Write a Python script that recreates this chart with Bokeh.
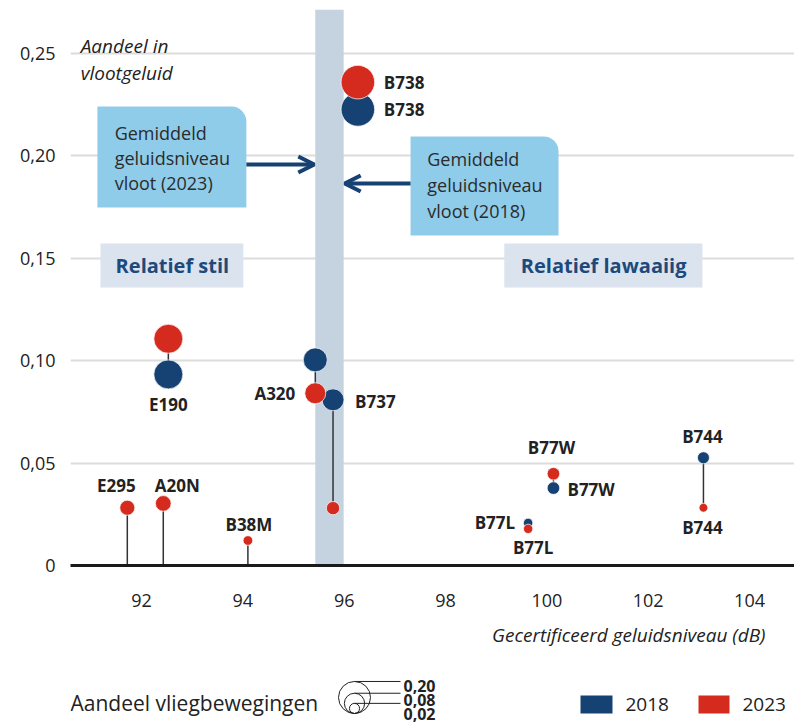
import math
from bokeh.plotting import figure
from bokeh.models import Range1d, FixedTicker, BoxAnnotation, Arrow, OpenHead
from bokeh.layouts import column
from bokeh.core.properties import value
from bokeh.embed import file_html
from bokeh.resources import INLINE

# ---------------- data ----------------
types = ["B738", "E190", "A320", "B737", "B77W", "B77L", "B744", "E295", "A20N", "B38M"]
level_db = [96.27, 92.53, 95.43, 95.78, 100.13, 99.63, 103.09, 91.72, 92.43, 94.10]
fleet_noise_2018 = [0.2227, 0.0933, 0.1004, 0.0809, 0.0378, 0.0208, 0.0526, None, None, None]
fleet_noise_2023 = [0.2360, 0.1107, 0.0841, 0.0280, 0.0448, 0.0179, 0.0282, 0.0282, 0.0303, 0.0122]
movements_2018 = [0.220, 0.164, 0.112, 0.094, 0.031, 0.017, 0.028, None, None, None]
movements_2023 = [0.220, 0.164, 0.086, 0.0345, 0.031, 0.017, 0.015, 0.044, 0.048, 0.018]
mean_level_2023 = 95.43
mean_level_2018 = 95.99
x_ticks = [92, 94, 96, 98, 100, 102, 104]
y_ticks = [0, 0.05, 0.10, 0.15, 0.20, 0.25]
y_tick_labels = ["0", "0,05", "0,10", "0,15", "0,20", "0,25"]
size_legend_values = [0.20, 0.08, 0.02]
size_legend_labels = ["0,20", "0,08", "0,02"]
years = ["2018", "2023"]

# ---------------- style ----------------
FONT = "Open Sans"
BLUE = "#154273"
RED = "#d52b1e"
TXT = "#222222"
BOXBLUE = "#8fcce9"
PALE = "#dbe3ee"
BAND = "#c5d2e0"
SIZE_K = 71.6


def diam(s):
    return SIZE_K * math.sqrt(s)


p = figure(width=794, height=620,
           x_range=Range1d(90.599, 104.887), y_range=Range1d(0, 0.27148),
           output_backend="svg", toolbar_location=None,
           min_border_left=70, min_border_right=0, min_border_top=9, min_border_bottom=55)
p.outline_line_color = None
p.background_fill_color = "white"
p.border_fill_color = "white"
p.xgrid.visible = False
p.ygrid.ticker = FixedTicker(ticks=y_ticks)
p.ygrid.grid_line_color = "#dcdcdc"
p.ygrid.grid_line_width = 2

p.xaxis.ticker = FixedTicker(ticks=x_ticks)
p.xaxis.axis_line_width = 3
p.xaxis.axis_line_color = "#1a1a1a"
p.xaxis.major_tick_line_color = None
p.xaxis.minor_tick_line_color = None
p.xaxis.major_label_standoff = 22
p.xaxis.major_label_text_font = FONT
p.xaxis.major_label_text_font_size = "18px"
p.xaxis.major_label_text_color = TXT

p.yaxis.ticker = FixedTicker(ticks=y_ticks)
p.yaxis.major_label_overrides = {t: l for t, l in zip(y_ticks, y_tick_labels)}
p.yaxis.axis_line_color = None
p.yaxis.major_tick_line_color = None
p.yaxis.minor_tick_line_color = None
p.yaxis.major_label_standoff = 9
p.yaxis.major_label_text_font = FONT
p.yaxis.major_label_text_font_size = "18px"
p.yaxis.major_label_text_color = TXT

# band between the two fleet means
p.add_layout(BoxAnnotation(left=mean_level_2023, right=mean_level_2018, fill_color=BAND,
                           fill_alpha=1, line_color=None, level="underlay"))

# annotation boxes
p.add_layout(BoxAnnotation(left=91.13, right=94.07, top=0.2241, bottom=0.1748, fill_color=BOXBLUE,
                           fill_alpha=1, line_color=None, level="underlay", border_radius=(0, 15, 0, 0)))
p.add_layout(BoxAnnotation(left=97.31, right=100.23, top=0.2095, bottom=0.1611, fill_color=BOXBLUE,
                           fill_alpha=1, line_color=None, level="underlay", border_radius=(0, 15, 0, 0)))
p.add_layout(BoxAnnotation(left=91.19, right=94.01, top=0.1572, bottom=0.1357, fill_color=PALE,
                           fill_alpha=1, line_color=None, level="underlay"))
p.add_layout(BoxAnnotation(left=99.16, right=103.07, top=0.1572, bottom=0.1357, fill_color=PALE,
                           fill_alpha=1, line_color=None, level="underlay"))

p.add_layout(Arrow(end=OpenHead(line_color=BLUE, line_width=4, size=16),
                   x_start=94.07, y_start=0.1958, x_end=mean_level_2023 - 0.02, y_end=0.1958,
                   line_color=BLUE, line_width=4))
p.add_layout(Arrow(end=OpenHead(line_color=BLUE, line_width=4, size=16),
                   x_start=97.31, y_start=0.1865, x_end=mean_level_2018 + 0.02, y_end=0.1865,
                   line_color=BLUE, line_width=4))

# box texts
p.text(x=[91.47] * 3, y=[0.2114, 0.1992, 0.1870],
       text=["Gemiddeld", "geluidsniveau", "vloot (2023)"],
       text_font=value(FONT), text_font_size="18px", text_color="#2b2b2b",
       text_align="left", text_baseline="middle")
p.text(x=[97.64] * 3, y=[0.1987, 0.1860, 0.1733],
       text=["Gemiddeld", "geluidsniveau", "vloot (2018)"],
       text_font=value(FONT), text_font_size="18px", text_color="#2b2b2b",
       text_align="left", text_baseline="middle")
p.text(x=[92.61, 101.12], y=[0.1465, 0.1465], text=["Relatief stil", "Relatief lawaaiig"],
       text_font=value(FONT), text_font_size="20px", text_font_style="bold", text_color="#1b4a7b",
       text_align="center", text_baseline="middle")

# y-axis title
p.text(x=[90.80, 90.80], y=[0.2539, 0.2407], text=["Aandeel in", "vlootgeluid"],
       text_font=value(FONT), text_font_size="19px", text_font_style="italic", text_color=TXT,
       text_align="left", text_baseline="alphabetic")

# stems / connectors
seg_x, seg_y0, seg_y1 = [], [], []
for i in range(len(types)):
    seg_x.append(level_db[i])
    seg_y0.append(fleet_noise_2018[i] if fleet_noise_2018[i] is not None else 0.0)
    seg_y1.append(fleet_noise_2023[i])
p.segment(x0=seg_x, y0=seg_y0, x1=seg_x, y1=seg_y1, line_color="#333333", line_width=1.5)

# circles
i18 = [i for i in range(len(types)) if fleet_noise_2018[i] is not None]
p.scatter(x=[level_db[i] for i in i18], y=[fleet_noise_2018[i] for i in i18],
          size=[diam(movements_2018[i]) for i in i18], marker="circle",
          fill_color=BLUE, line_color="white", line_width=1, line_alpha=0.7)
p.scatter(x=level_db, y=fleet_noise_2023, size=[diam(m) for m in movements_2023], marker="circle",
          fill_color=RED, line_color="white", line_width=1, line_alpha=0.7)

# point labels: (type, year, align, dx, dy)
label_spec = [
    ("B738", "2023", "left", 26, 0),
    ("B738", "2018", "left", 26, 0),
    ("E190", "2018", "center", 0, 30),
    ("A320", "2023", "right", -20, 0),
    ("B737", "2018", "left", 22, 2),
    ("E295", "2023", "center", -11, -22),
    ("A20N", "2023", "center", 14, -18),
    ("B38M", "2023", "center", 1, -16),
    ("B77W", "2023", "center", -2, -26),
    ("B77W", "2018", "left", 14, 1),
    ("B77L", "2018", "right", -13, 0),
    ("B77L", "2023", "center", 5, 19),
    ("B744", "2018", "center", -1, -21),
    ("B744", "2023", "center", -1, 20),
]
for align in ["left", "center", "right"]:
    lx, ly, lt, ox, oy = [], [], [], [], []
    for t, yr, a, dx, dy in label_spec:
        if a != align:
            continue
        i = types.index(t)
        lx.append(level_db[i])
        ly.append(fleet_noise_2018[i] if yr == "2018" else fleet_noise_2023[i])
        lt.append(t)
        ox.append(dx)
        oy.append(dy)
    p.text(x=lx, y=ly, text=lt, x_offset=ox, y_offset=oy,
           text_font=value(FONT), text_font_size="17px", text_font_style="bold", text_color=TXT,
           text_align=align, text_baseline="middle")

# ---------------- bottom strip: axis title + legends (pixel layout) ----------------
leg = figure(width=794, height=103, x_range=Range1d(70, 794), y_range=Range1d(103, 0),
             x_axis_type=None, y_axis_type=None, output_backend="svg", toolbar_location=None,
             min_border_left=70, min_border_right=0, min_border_top=0, min_border_bottom=0)
leg.outline_line_color = None
leg.background_fill_color = "white"
leg.border_fill_color = "white"

leg.text(x=[765], y=[14], text=["Gecertificeerd geluidsniveau (dB)"],
         text_font=value(FONT), text_font_size="19px", text_font_style="italic", text_color=TXT,
         text_align="right", text_baseline="middle")
leg.text(x=[70], y=[82], text=["Aandeel vliegbewegingen"],
         text_font=value(FONT), text_font_size="21px", text_color=TXT,
         text_align="left", text_baseline="middle")

circ_bottom = 93
ds = [diam(v) for v in size_legend_values]
leg.scatter(x=[354] * 3, y=[circ_bottom - d / 2 for d in ds], size=ds, marker="circle",
            fill_color=None, line_color="#222222", line_width=1)
tops = [circ_bottom - d for d in ds]
leg.segment(x0=[354] * 3, y0=tops, x1=[400] * 3, y1=tops, line_color="#222222", line_width=1)
leg.text(x=[403] * 3, y=[65, 79, 93], text=size_legend_labels,
         text_font=value(FONT), text_font_size="16px", text_font_style="bold", text_color=TXT,
         text_align="left", text_baseline="middle")

leg.rect(x=[596, 713.5], y=[84, 84], width=[32, 31], height=[18, 18],
         fill_color=[BLUE, RED], line_color=None)
leg.text(x=[625, 742], y=[84, 84], text=years,
         text_font=value(FONT), text_font_size="19px", text_color=TXT,
         text_align="left", text_baseline="middle")

layout = column(p, leg, spacing=0)
open("out.html", "w").write(file_html(layout, INLINE, title="Aandeel in vlootgeluid"))
